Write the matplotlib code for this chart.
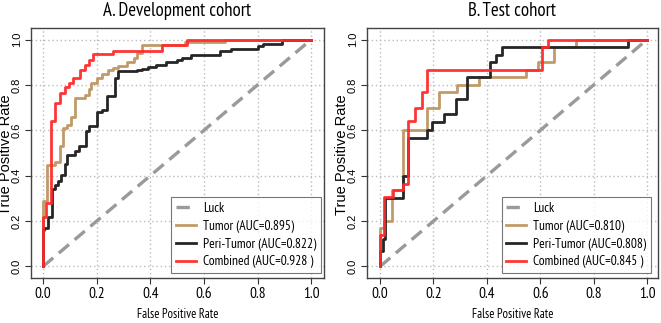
import matplotlib
matplotlib.use('Agg')
import matplotlib.pyplot as plt

# horizontal text in the reference is very narrow, rotated text is ordinary Arial-like
NARROW = ['PT Sans Narrow', 'Roboto Condensed', 'DejaVu Sans']
REGULAR = ['Liberation Sans', 'DejaVu Sans']
plt.rcParams['font.family'] = NARROW

# ── ROC staircase vertices (fpr, tpr) ──────────────────────────────
dev_title = "A. Development cohort"
test_title = "B. Test cohort"

dev_tumor_fpr = [0, 0, 0.015, 0.044, 0.0625, 0.075, 0.09, 0.106, 0.119, 0.156, 0.17, 0.18, 0.2,
                 0.219, 0.244, 0.26, 0.28, 0.3125, 0.3375, 0.35, 0.369, 0.53, 0.68, 1.0]
dev_tumor_tpr = [0, 0.287, 0.449, 0.46, 0.53, 0.61, 0.625, 0.66, 0.743, 0.757, 0.78, 0.81, 0.83,
                 0.85, 0.866, 0.875, 0.882, 0.9, 0.919, 0.94, 0.974, 0.988, 1.0, 1.0]

dev_peri_fpr = [0, 0, 0.005, 0.0175, 0.033, 0.045, 0.055, 0.068, 0.08, 0.09, 0.12, 0.135, 0.16,
                0.17, 0.2, 0.22, 0.24, 0.27, 0.28, 0.35, 0.37, 0.39, 0.42, 0.46, 0.5, 0.52, 0.55,
                0.66, 0.7, 0.8, 0.82, 0.89, 1.0]
dev_peri_tpr = [0, 0.16, 0.17, 0.22, 0.34, 0.36, 0.375, 0.405, 0.45, 0.49, 0.51, 0.53, 0.596,
                0.62, 0.68, 0.69, 0.75, 0.83, 0.86, 0.865, 0.87, 0.88, 0.89, 0.9, 0.91, 0.92, 0.93,
                0.95, 0.96, 0.97, 0.98, 1.0, 1.0]

dev_comb_fpr = [0, 0, 0.01, 0.031, 0.044, 0.0625, 0.08, 0.095, 0.11, 0.1375, 0.155, 0.17, 0.185,
                0.26, 0.444, 0.5375, 1.0]
dev_comb_tpr = [0, 0.22, 0.28, 0.64, 0.72, 0.765, 0.79, 0.81, 0.83, 0.868, 0.89, 0.91, 0.938,
                0.948, 0.978, 1.0, 1.0]

test_tumor_fpr = [0, 0, 0.016, 0.044, 0.087, 0.175, 0.22, 0.287, 0.37, 0.545, 0.59, 0.65, 0.735, 1.0]
test_tumor_tpr = [0, 0.17, 0.2, 0.335, 0.6, 0.70, 0.768, 0.80, 0.833, 0.866, 0.9, 0.966, 1.0, 1.0]

test_peri_fpr = [0, 0, 0.01, 0.02, 0.087, 0.106, 0.175, 0.193, 0.24, 0.283, 0.327, 0.41, 0.435,
                 0.456, 0.93, 1.0]
test_peri_tpr = [0, 0.07, 0.123, 0.30, 0.40, 0.567, 0.6, 0.636, 0.67, 0.739, 0.833, 0.9, 0.934,
                 0.966, 1.0, 1.0]

test_comb_fpr = [0, 0, 0.016, 0.047, 0.087, 0.106, 0.131, 0.156, 0.177, 0.605, 0.63, 1.0]
test_comb_tpr = [0, 0.137, 0.305, 0.338, 0.364, 0.64, 0.70, 0.768, 0.866, 0.966, 1.0, 1.0]

dev_labels = ["Luck", "Tumor (AUC=0.895)", "Peri-Tumor (AUC=0.822)", "Combined (AUC=0.928 )"]
test_labels = ["Luck", "Tumor (AUC=0.810)", "Peri-Tumor (AUC=0.808)", "Combined (AUC=0.845 )"]

ticks = [0.0, 0.2, 0.4, 0.6, 0.8, 1.0]

TAN = "#C29A68"
BLACK = "#262626"
RED = "#FF2A2A"
GREY = "#9A9A9A"

W, H = 661, 323
fig = plt.figure(figsize=(W / 100, H / 100), dpi=100)

panels = [
    # box (left, top, right, bottom) px, xlim, ylabel x px, legend lower-right px
    ((31, 28, 324, 278), (-0.045, 1.048), 6, (321, 273), dev_title,
     (dev_tumor_fpr, dev_tumor_tpr), (dev_peri_fpr, dev_peri_tpr), (dev_comb_fpr, dev_comb_tpr), dev_labels),
    ((367, 28, 658, 278), (-0.049, 1.041), 342, (651, 273), test_title,
     (test_tumor_fpr, test_tumor_tpr), (test_peri_fpr, test_peri_tpr), (test_comb_fpr, test_comb_tpr), test_labels),
]

for box, xl, ylab_x, leg_pt, title, tum, peri, comb, labels in panels:
    l, t, r, b = box
    ax = fig.add_axes([l / W, 1 - b / H, (r - l) / W, (b - t) / H])
    ax.set_xlim(*xl)
    ax.set_ylim(-0.051, 1.051)
    ax.grid(True, color="#BBBBBB", linestyle=(0, (1, 2)), linewidth=1.0)
    ax.set_axisbelow(True)

    ax.plot([0, 1], [0, 1], color=GREY, linestyle=(0, (4, 2.2)), linewidth=2.4, label=labels[0])
    ax.plot(*tum, drawstyle="steps-post", color=TAN, linewidth=2.0, label=labels[1])
    ax.plot(*peri, drawstyle="steps-post", color=BLACK, linewidth=2.0, label=labels[2])
    ax.plot(*comb, drawstyle="steps-post", color=RED, linewidth=2.0, alpha=0.95, label=labels[3])

    ax.set_xticks(ticks)
    ax.set_yticks(ticks)
    ax.set_xticklabels([f"{v:.1f}" for v in ticks], fontsize=11)
    ax.set_yticklabels([f"{v:.1f}" for v in ticks], fontsize=8, rotation=90, va="center",
                       family=REGULAR)
    ax.tick_params(direction="out", length=4, width=0.8, color="#333333", pad=2.5)
    for s in ax.spines.values():
        s.set_color("#444444")
        s.set_linewidth(1.0)

    fig.text((l + r) / 2 / W, 1 - 10.5 / H, title, fontsize=13.5, ha="center", va="center")
    fig.text((l + r) / 2 / W, 1 - 315 / H, "False Positive Rate", fontsize=9, ha="center", va="center")
    fig.text(ylab_x / W, 1 - 155 / H, "True Positive Rate", fontsize=10.5, ha="center", va="center",
             rotation=90, family=REGULAR)

    lx = (leg_pt[0] - l) / (r - l)
    ly = (b - leg_pt[1]) / (b - t)
    leg = ax.legend(loc="lower right", bbox_to_anchor=(lx, ly), fontsize=9.7, frameon=True,
                    fancybox=False, handlelength=1.45, borderpad=0.35, labelspacing=0.35,
                    borderaxespad=0.0, handletextpad=0.55)
    leg.get_frame().set_edgecolor("#555555")
    leg.get_frame().set_linewidth(0.8)

fig.savefig("out.png", dpi=100)
